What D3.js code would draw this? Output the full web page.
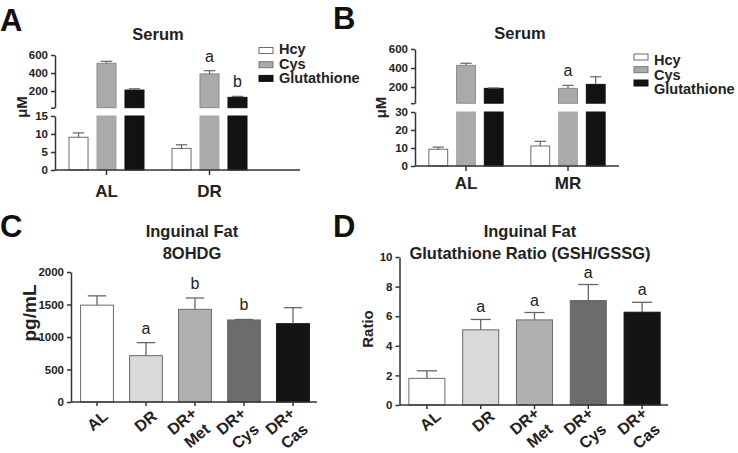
<!DOCTYPE html>
<html lang="en">
<head>
<meta charset="utf-8">
<title>Serum and inguinal fat</title>
<script src="https://cdn.jsdelivr.net/npm/d3@7"></script>
<style>
  body { margin: 0; background: #fff; }
  svg { font-family: "Liberation Sans", Arial, Helvetica, sans-serif; }
</style>
</head>
<body>
<script>
// ---------- data ----------
var serumSeries = ["Hcy", "Cys", "Glutathione"];
var serumFill = ["#ffffff", "#aaaaaa", "#121212"];

// panel A (serum, DR)
var aGroups = ["AL", "DR"];
var aHcy = [9.1, 6.0],  aHcySem = [1.2, 1.0];
var aCys = [508, 390],  aCysSem = [22, 36];
var aGsh = [211, 130],  aGshSem = [14, 11];
var aLetters = [["", "", ""], ["", "a", "b"]];
var aLowTicks = [0, 5, 10, 15];
var aHighTicks = [200, 400, 600];

// panel B (serum, MR)
var bGroups = ["AL", "MR"];
var bHcy = [9.3, 11.1], bHcySem = [1.2, 2.6];
var bCys = [428, 186],  bCysSem = [22, 32];
var bGsh = [186, 228],  bGshSem = [4, 80];
var bLetters = [["", "", ""], ["", "a", ""]];
var bLowTicks = [0, 10, 20, 30];
var bHighTicks = [200, 400, 600];

// panels C and D (inguinal fat)
var fatGroups = ["AL", "DR", "DR+ Met", "DR+ Cys", "DR+ Cas"];
var fatFill = ["#ffffff", "#d9d9d9", "#b0b0b0", "#6c6c6c", "#141414"];

var ohdgMean = [1490, 713, 1426, 1262, 1205];
var ohdgSem = [143, 200, 174, 8, 246];
var ohdgLetters = ["", "a", "b", "b", ""];
var ohdgTicks = [0, 500, 1000, 1500, 2000];

var ratioMean = [1.8, 5.08, 5.75, 7.06, 6.27];
var ratioSem = [0.51, 0.70, 0.50, 1.08, 0.67];
var ratioLetters = ["", "a", "a", "a", "a"];
var ratioTicks = [0, 2, 4, 6, 8, 10];

// ---------- drawing ----------
var W = 738, H = 453;
var axisColor = "#333";
var barStroke = "#6a6a6a";
var fmt = d3.format("d");

var svg = d3.select("body").append("svg")
	.attr("width", W).attr("height", H);
svg.append("rect").attr("width", W).attr("height", H).attr("fill", "#fff");

function styleAxis(sel, size) {
	sel.selectAll("path, line").attr("stroke", axisColor).attr("stroke-width", 1.5);
	sel.selectAll("text").attr("fill", "#222").attr("font-weight", "bold")
		.attr("font-size", size).attr("font-family", null);
}

function panelLetter(t, x, y) {
	svg.append("text").attr("x", x).attr("y", y).text(t)
		.attr("font-size", 31).attr("font-weight", "bold").attr("fill", "#111");
}

function title(lines, cx, y0) {
	lines.forEach(function (l, i) {
		svg.append("text").attr("x", cx).attr("y", y0 + i * 22.5).text(l)
			.attr("text-anchor", "middle").attr("font-size", 16.5)
			.attr("font-weight", "bold").attr("fill", "#222");
	});
}

function yTitle(t, x, y, size) {
	svg.append("text").attr("transform", "translate(" + x + "," + y + ") rotate(-90)")
		.attr("text-anchor", "middle").text(t)
		.attr("font-size", size).attr("font-weight", "bold").attr("fill", "#222");
}

// broken y axis panel (serum)
function breakPanel(cfg) {
	var g = svg.append("g");
	var low = d3.scaleLinear().domain([0, cfg.cut]).range([cfg.yZero, cfg.yLowTop]);
	var high = d3.scaleLinear().domain([cfg.cut, 600]).range([cfg.yHighBottom, cfg.yTop]);
	var yv = function (v) { return v <= cfg.cut ? low(v) : high(v); };

	var x0 = d3.scaleBand().domain(cfg.groups)
		.range([cfg.axisX, cfg.axisX + cfg.groups.length * cfg.groupStep]);
	var x1 = d3.scaleBand().domain(serumSeries).range([0, x0.bandwidth()])
		.paddingInner(0.32).paddingOuter(0.5);

	var rows = [];
	cfg.groups.forEach(function (grp, i) {
		serumSeries.forEach(function (s, j) {
			rows.push({ grp: grp, s: s, j: j, v: cfg.means[j][i], e: cfg.sems[j][i], lab: cfg.letters[i][j] });
		});
	});
	var bx = function (d) { return x0(d.grp) + x1(d.s); };
	var bw = x1.bandwidth();

	// lower segment bars
	g.selectAll("rect.low").data(rows).enter().append("rect").attr("class", "low")
		.attr("x", bx).attr("width", bw)
		.attr("y", function (d) { return low(Math.min(d.v, cfg.cut)); })
		.attr("height", function (d) { return low(0) - low(Math.min(d.v, cfg.cut)); })
		.attr("fill", function (d) { return serumFill[d.j]; })
		.attr("stroke", function (d) { return d.j == 0 ? barStroke : serumFill[d.j]; });
	// upper segment bars
	g.selectAll("rect.high").data(rows.filter(function (d) { return d.v > cfg.cut; }))
		.enter().append("rect").attr("class", "high")
		.attr("x", bx).attr("width", bw)
		.attr("y", function (d) { return high(d.v); })
		.attr("height", function (d) { return high(cfg.cut) - high(d.v); })
		.attr("fill", function (d) { return serumFill[d.j]; })
		.attr("stroke", function (d) { return d.j == 0 ? barStroke : (d.j == 1 ? "#8a8a8a" : "#111"); });

	// error bars (upper only)
	var eb = g.selectAll("g.err").data(rows).enter().append("g");
	eb.append("line")
		.attr("x1", function (d) { return bx(d) + bw / 2; })
		.attr("x2", function (d) { return bx(d) + bw / 2; })
		.attr("y1", function (d) { return yv(d.v); })
		.attr("y2", function (d) { return yv(d.v + d.e); })
		.attr("stroke", "#666").attr("stroke-width", 1.2);
	eb.append("line")
		.attr("x1", function (d) { return bx(d) + bw * 0.2; })
		.attr("x2", function (d) { return bx(d) + bw * 0.8; })
		.attr("y1", function (d) { return yv(d.v + d.e); })
		.attr("y2", function (d) { return yv(d.v + d.e); })
		.attr("stroke", "#666").attr("stroke-width", 1.2);
	g.selectAll("text.sig").data(rows.filter(function (d) { return d.lab; }))
		.enter().append("text")
		.attr("x", function (d) { return bx(d) + bw / 2; })
		.attr("y", function (d) { return yv(d.v + d.e) - 9; })
		.attr("text-anchor", "middle").attr("font-size", 16).attr("fill", "#222")
		.text(function (d) { return d.lab; });

	// axes
	var ayLow = g.append("g").attr("transform", "translate(" + cfg.axisX + ",0)")
		.call(d3.axisLeft(low).tickValues(cfg.lowTicks).tickSize(4).tickSizeOuter(0).tickPadding(3).tickFormat(fmt));
	styleAxis(ayLow, 11.5);
	var hiTicks = [cfg.cut].concat(cfg.highTicks);
	var ayHigh = g.append("g").attr("transform", "translate(" + cfg.axisX + ",0)")
		.call(d3.axisLeft(high).tickValues(hiTicks).tickSize(4).tickSizeOuter(0).tickPadding(3)
			.tickFormat(function (d) { return d == cfg.cut ? "" : fmt(d); }));
	styleAxis(ayHigh, 11.5);

	var ax = g.append("g").attr("transform", "translate(0," + cfg.yZero + ")")
		.call(d3.axisBottom(x0).tickSize(5).tickSizeOuter(0).tickPadding(cfg.xPad));
	ax.select(".domain").remove();
	styleAxis(ax, 17);
	g.append("line").attr("x1", cfg.axisX).attr("x2", cfg.xEnd)
		.attr("y1", cfg.yZero).attr("y2", cfg.yZero)
		.attr("stroke", axisColor).attr("stroke-width", 1.5);

	// legend
	var lg = g.selectAll("g.leg").data(serumSeries).enter().append("g");
	lg.append("rect")
		.attr("x", cfg.legX).attr("width", 14).attr("height", 6)
		.attr("y", function (d, i) { return cfg.legBox[i] - 3; })
		.attr("fill", function (d, i) { return serumFill[i]; })
		.attr("stroke", function (d, i) { return i == 0 ? barStroke : (i == 1 ? "#777" : "#111"); });
	lg.append("text")
		.attr("x", cfg.legX + 20)
		.attr("y", function (d, i) { return cfg.legText[i]; })
		.attr("font-size", 14.5).attr("font-weight", "bold").attr("fill", "#222")
		.text(function (d) { return d; });
}

// simple bar panel (inguinal fat)
function barPanel(cfg) {
	var g = svg.append("g");
	var y = d3.scaleLinear().domain(cfg.domain).range([cfg.yZero, cfg.yTop]);
	var x = d3.scaleBand().domain(fatGroups).range(cfg.xRange)
		.paddingInner(0.33).paddingOuter(0.165);
	var rows = fatGroups.map(function (grp, i) {
		return { grp: grp, i: i, v: cfg.means[i], e: cfg.sems[i], lab: cfg.letters[i] };
	});
	var bw = x.bandwidth();

	g.selectAll("rect").data(rows).enter().append("rect")
		.attr("x", function (d) { return x(d.grp); }).attr("width", bw)
		.attr("y", function (d) { return y(d.v); })
		.attr("height", function (d) { return y(0) - y(d.v); })
		.attr("fill", function (d) { return fatFill[d.i]; })
		.attr("stroke", function (d) { return d.i == 4 ? "#111" : barStroke; });

	var eb = g.selectAll("g.err").data(rows).enter().append("g");
	eb.append("line")
		.attr("x1", function (d) { return x(d.grp) + bw / 2; })
		.attr("x2", function (d) { return x(d.grp) + bw / 2; })
		.attr("y1", function (d) { return y(d.v); })
		.attr("y2", function (d) { return y(d.v + d.e); })
		.attr("stroke", "#666").attr("stroke-width", 1.3);
	eb.append("line")
		.attr("x1", function (d) { return x(d.grp) + bw * 0.22; })
		.attr("x2", function (d) { return x(d.grp) + bw * 0.78; })
		.attr("y1", function (d) { return y(d.v + d.e); })
		.attr("y2", function (d) { return y(d.v + d.e); })
		.attr("stroke", "#666").attr("stroke-width", 1.3);
	g.selectAll("text.sig").data(rows.filter(function (d) { return d.lab; }))
		.enter().append("text")
		.attr("x", function (d) { return x(d.grp) + bw / 2; })
		.attr("y", function (d) { return y(d.v + d.e) - cfg.sigGap; })
		.attr("text-anchor", "middle").attr("font-size", 16).attr("fill", "#222")
		.text(function (d) { return d.lab; });

	var ay = g.append("g").attr("transform", "translate(" + cfg.axisX + ",0)")
		.call(d3.axisLeft(y).tickValues(cfg.ticks).tickSize(4).tickSizeOuter(0).tickPadding(3).tickFormat(fmt));
	styleAxis(ay, 11.5);

	var ax = g.append("g").attr("transform", "translate(0," + cfg.yZero + ")")
		.call(d3.axisBottom(x).tickSize(4).tickSizeOuter(0).tickFormat(""));
	ax.select(".domain").remove();
	styleAxis(ax, 15);
	g.append("line").attr("x1", cfg.axisX).attr("x2", cfg.xEnd)
		.attr("y1", cfg.yZero).attr("y2", cfg.yZero)
		.attr("stroke", axisColor).attr("stroke-width", 1.5);

	// rotated category labels, one or two lines
	rows.forEach(function (d) {
		var cx = x(d.grp) + bw / 2 + cfg.labDx;
		var parts = d.grp.split(" ");
		var pos = parts.length == 1 ? [[12, 16]] : [[3, 13], [16, 29]];
		parts.forEach(function (p, k) {
			g.append("text")
				.attr("transform", "translate(" + (cx + pos[k][0]) + "," + (cfg.yZero + cfg.labDy + pos[k][1]) + ") rotate(-40)")
				.attr("text-anchor", "end").attr("font-size", 16).attr("font-weight", "bold")
				.attr("fill", "#222").text(p);
		});
	});
}

// ---------- panel A ----------
panelLetter("A", 0, 31);
title(["Serum"], 158, 40);
yTitle("μM", 27, 107, 15);
breakPanel({
	groups: aGroups,
	means: [aHcy, aCys, aGsh], sems: [aHcySem, aCysSem, aGshSem], letters: aLetters,
	cut: 15, yZero: 170, yLowTop: 116, yHighBottom: 107.7, yTop: 55,
	lowTicks: aLowTicks, highTicks: aHighTicks,
	axisX: 55, groupStep: 103, xEnd: 300, xPad: 10,
	legX: 259, legBox: [50.5, 64.7, 78.4], legText: [54, 68.5, 83]
});

// ---------- panel B ----------
panelLetter("B", 333, 29);
title(["Serum"], 520, 39);
yTitle("μM", 386, 107.5, 15);
breakPanel({
	groups: bGroups,
	means: [bHcy, bCys, bGsh], sems: [bHcySem, bCysSem, bGshSem], letters: bLetters,
	cut: 30, yZero: 166, yLowTop: 112, yHighBottom: 103.2, yTop: 49,
	lowTicks: bLowTicks, highTicks: bHighTicks,
	axisX: 415, groupStep: 102, xEnd: 619, xPad: 6,
	legX: 634, legBox: [57, 69.7, 83], legText: [65, 79.5, 94]
});

// ---------- panel C ----------
panelLetter("C", 0, 237);
title(["Inguinal Fat", "8OHDG"], 192, 236.5);
yTitle("pg/mL", 36, 313, 19);
barPanel({
	means: ohdgMean, sems: ohdgSem, letters: ohdgLetters, ticks: ohdgTicks,
	domain: [0, 2000], yZero: 402, yTop: 272,
	axisX: 71, xRange: [72.5, 317.5], xEnd: 317, sigGap: 9, labDx: 0, labDy: 0
});

// ---------- panel D ----------
panelLetter("D", 333, 237);
title(["Inguinal Fat", "Glutathione Ratio (GSH/GSSG)"], 530, 236.5);
yTitle("Ratio", 373, 329, 15);
barPanel({
	means: ratioMean, sems: ratioSem, letters: ratioLetters, ticks: ratioTicks,
	domain: [0, 10], yZero: 405, yTop: 257,
	axisX: 399.5, xRange: [400, 669], xEnd: 668, sigGap: 7, labDx: 3, labDy: -3
});
</script>
</body>
</html>
